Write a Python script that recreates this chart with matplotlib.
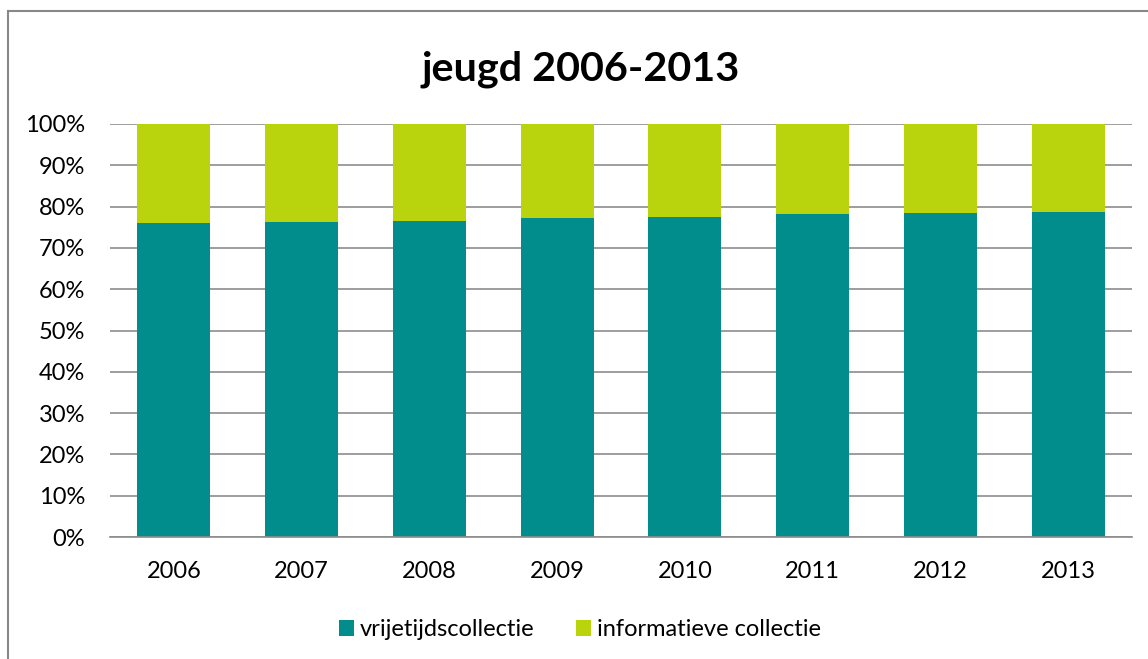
import numpy as np
import matplotlib.pyplot as plt
from matplotlib.patches import Rectangle

plt.rcParams['font.family'] = ['Lato', 'DejaVu Sans']

years = ['2006', '2007', '2008', '2009', '2010', '2011', '2012', '2013']
vrijetijd = [76.0, 76.3, 76.6, 77.2, 77.6, 78.1, 78.5, 78.8]
informatief = [24.0, 23.7, 23.4, 22.8, 22.4, 21.9, 21.5, 21.2]
y_ticks = [0, 10, 20, 30, 40, 50, 60, 70, 80, 90, 100]

TEAL = '#008D8B'
LIME = '#B9D30C'
GRID = '#8C8C8C'

fig = plt.figure(figsize=(11.48, 6.59), dpi=100)
ax = fig.add_axes([110 / 1148, 1 - 537 / 659, 1022 / 1148, 413 / 659])

x = np.arange(len(years))
b1 = ax.bar(x, vrijetijd, width=0.571, color=TEAL, zorder=2, label='vrijetijdscollectie')
b2 = ax.bar(x, informatief, width=0.571, bottom=vrijetijd, color=LIME, zorder=2,
            label='informatieve collectie')

ax.set_xlim(-0.5, len(years) - 0.5)
ax.set_ylim(0, 100)
ax.set_yticks(y_ticks)
ax.set_yticklabels([f'{t}%' for t in y_ticks], fontsize=17)
ax.set_xticks(x)
ax.set_xticklabels(years, fontsize=17)
ax.tick_params(axis='both', length=0, colors='black')
ax.tick_params(axis='y', pad=18)
ax.tick_params(axis='x', pad=17)

ax.yaxis.grid(True, color=GRID, linewidth=1.2, zorder=1)
for s in ['top', 'right', 'left']:
    ax.spines[s].set_visible(False)
ax.spines['bottom'].set_color(GRID)
ax.spines['bottom'].set_linewidth(1.2)

fig.text(581 / 1148, 1 - 69 / 659, 'jeugd 2006-2013', fontsize=29.8, fontweight='bold',
         ha='center', va='center')

fig.legend(handles=[b1, b2], loc='center', bbox_to_anchor=(580 / 1148, 1 - 630 / 659),
           ncol=2, frameon=False, fontsize=17, handlelength=0.64, handleheight=0.64,
           handletextpad=0.25, columnspacing=1.74)

fig.patches.append(Rectangle((8 / 1148, -0.1), 1.2, 1 - 11 / 659 + 0.1,
                             transform=fig.transFigure, fill=False,
                             edgecolor='#888888', linewidth=1.5))

fig.savefig('out.png', dpi=100)
